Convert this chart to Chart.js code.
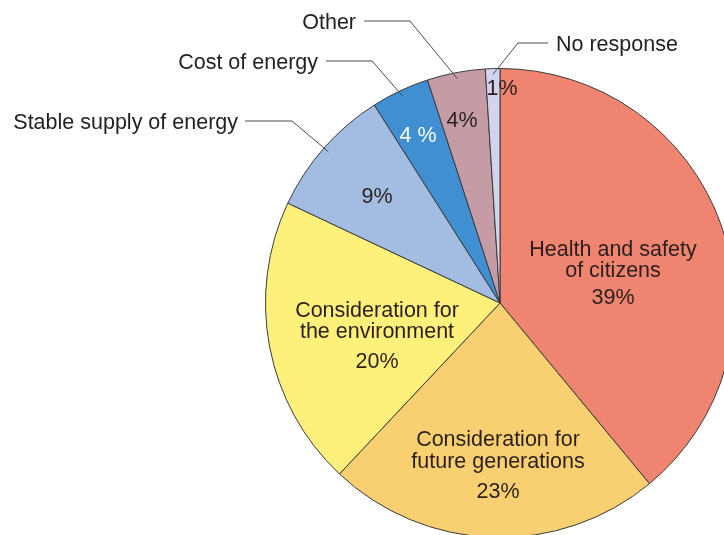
<!DOCTYPE html>
<html>
<head>
<meta charset="utf-8">
<script src="https://cdn.jsdelivr.net/npm/chart.js@4.4.1/dist/chart.umd.min.js"></script>
<style>
    html, body { margin: 0; padding: 0; background: #fff; }
    #wrap { position: relative; width: 724px; height: 535px; overflow: hidden; }
    #pie { position: absolute; left: 0; top: 0; }
</style>
</head>
<body>
<div id="wrap">
    <canvas id="pie" width="1000" height="606"></canvas>
</div>
<script>
// Daten
const categories = [
    "Health and safety of citizens",
    "Consideration for future generations",
    "Consideration for the environment",
    "Stable supply of energy",
    "Cost of energy",
    "Other",
    "No response"
];
const shares = [39, 23, 20, 9, 4, 4, 1];
const percentLabels = ["39%", "23%", "20%", "9%", "4 %", "4%", "1%"];
const innerLines = [
    ["Health and safety", "of citizens"],
    ["Consideration for", "future generations"],
    ["Consideration for", "the environment"],
    [], [], [], []
];
const calloutNames = [null, null, null, "Stable supply of energy", "Cost of energy", "Other", "No response"];

const sliceColors = ["#ef8570", "#f9d071", "#fef17b", "#a3bde2", "#3f8fd2", "#c59ba5", "#d3d3ee"];
const labelColors = ["#2a1f1c", "#2a1f1c", "#2a1f1c", "#2a1f1c", "#ffffff", "#2a1f1c", "#2a1f1c"];

// Position der Texte relativ zur Kreismitte (px)
// [x, erste Grundlinie, Zeilenabstand, Abstand zur Prozentzeile]
const innerPos = [
    [113, -47, 21, 27],
    [-2, 143, 22, 30],
    [-123, 14, 21, 30],
    [-123, -100, 0, 0],
    [-82, -161, 0, 0],
    [-38, -176, 0, 0],
    [2, -208, 0, 0]
];
// Hinweislinien: Knick (x,y), Linienanfang x, Textkante x, Ausrichtung
const callouts = [
    null, null, null,
    { elbow: [-208, -182], start: -255, text: -262, align: "right" },
    { elbow: [-128, -242], start: -174, text: -182, align: "right" },
    { elbow: [-90, -282], start: -136, text: -144, align: "right" },
    { elbow: [18, -260], start: 48, text: 56, align: "left" }
];

const FONT = "21.5px 'Liberation Sans', Arial, sans-serif";

const labelPlugin = {
    id: "pieLabels",
    afterDatasetsDraw(chart) {
        const ctx = chart.ctx;
        const arcs = chart.getDatasetMeta(0).data;
        ctx.save();
        ctx.font = FONT;
        arcs.forEach((arc, i) => {
            const p = arc.getProps(["x", "y", "startAngle", "endAngle", "outerRadius"], true);
            const cx = p.x, cy = p.y;

            // Texte im Segment
            const [dx, dy, lh, gap] = innerPos[i];
            ctx.fillStyle = labelColors[i];
            ctx.textAlign = "center";
            ctx.textBaseline = "alphabetic";
            let by = cy + dy;
            innerLines[i].forEach((line, k) => {
                ctx.fillText(line, cx + dx, by);
                by += (k === innerLines[i].length - 1) ? gap : lh;
            });
            ctx.fillText(percentLabels[i], cx + dx, by);

            // Hinweislinien
            const c = callouts[i];
            if (c) {
                const mid = (p.startAngle + p.endAngle) / 2;
                const r = p.outerRadius * 0.975;
                const ix = cx + Math.cos(mid) * r;
                const iy = cy + Math.sin(mid) * r;
                const ex = cx + c.elbow[0], ey = cy + c.elbow[1];
                ctx.strokeStyle = "#4a4a4a";
                ctx.lineWidth = 1;
                ctx.beginPath();
                ctx.moveTo(ix, iy);
                ctx.lineTo(ex, ey);
                ctx.lineTo(cx + c.start, ey);
                ctx.stroke();
                ctx.fillStyle = "#222";
                ctx.textAlign = c.align;
                ctx.fillText(calloutNames[i], cx + c.text, ey + 8);
            }
        });
        ctx.restore();
    }
};

new Chart(document.getElementById("pie"), {
    type: "pie",
    data: {
        labels: categories,
        datasets: [{
            data: shares,
            backgroundColor: sliceColors,
            borderColor: "#3a3a3a",
            borderWidth: 1
        }]
    },
    options: {
        responsive: false,
        devicePixelRatio: 1,
        animation: false,
        layout: { padding: 68 },
        plugins: {
            legend: { display: false },
            tooltip: { enabled: false }
        }
    },
    plugins: [labelPlugin]
});
</script>
</body>
</html>
